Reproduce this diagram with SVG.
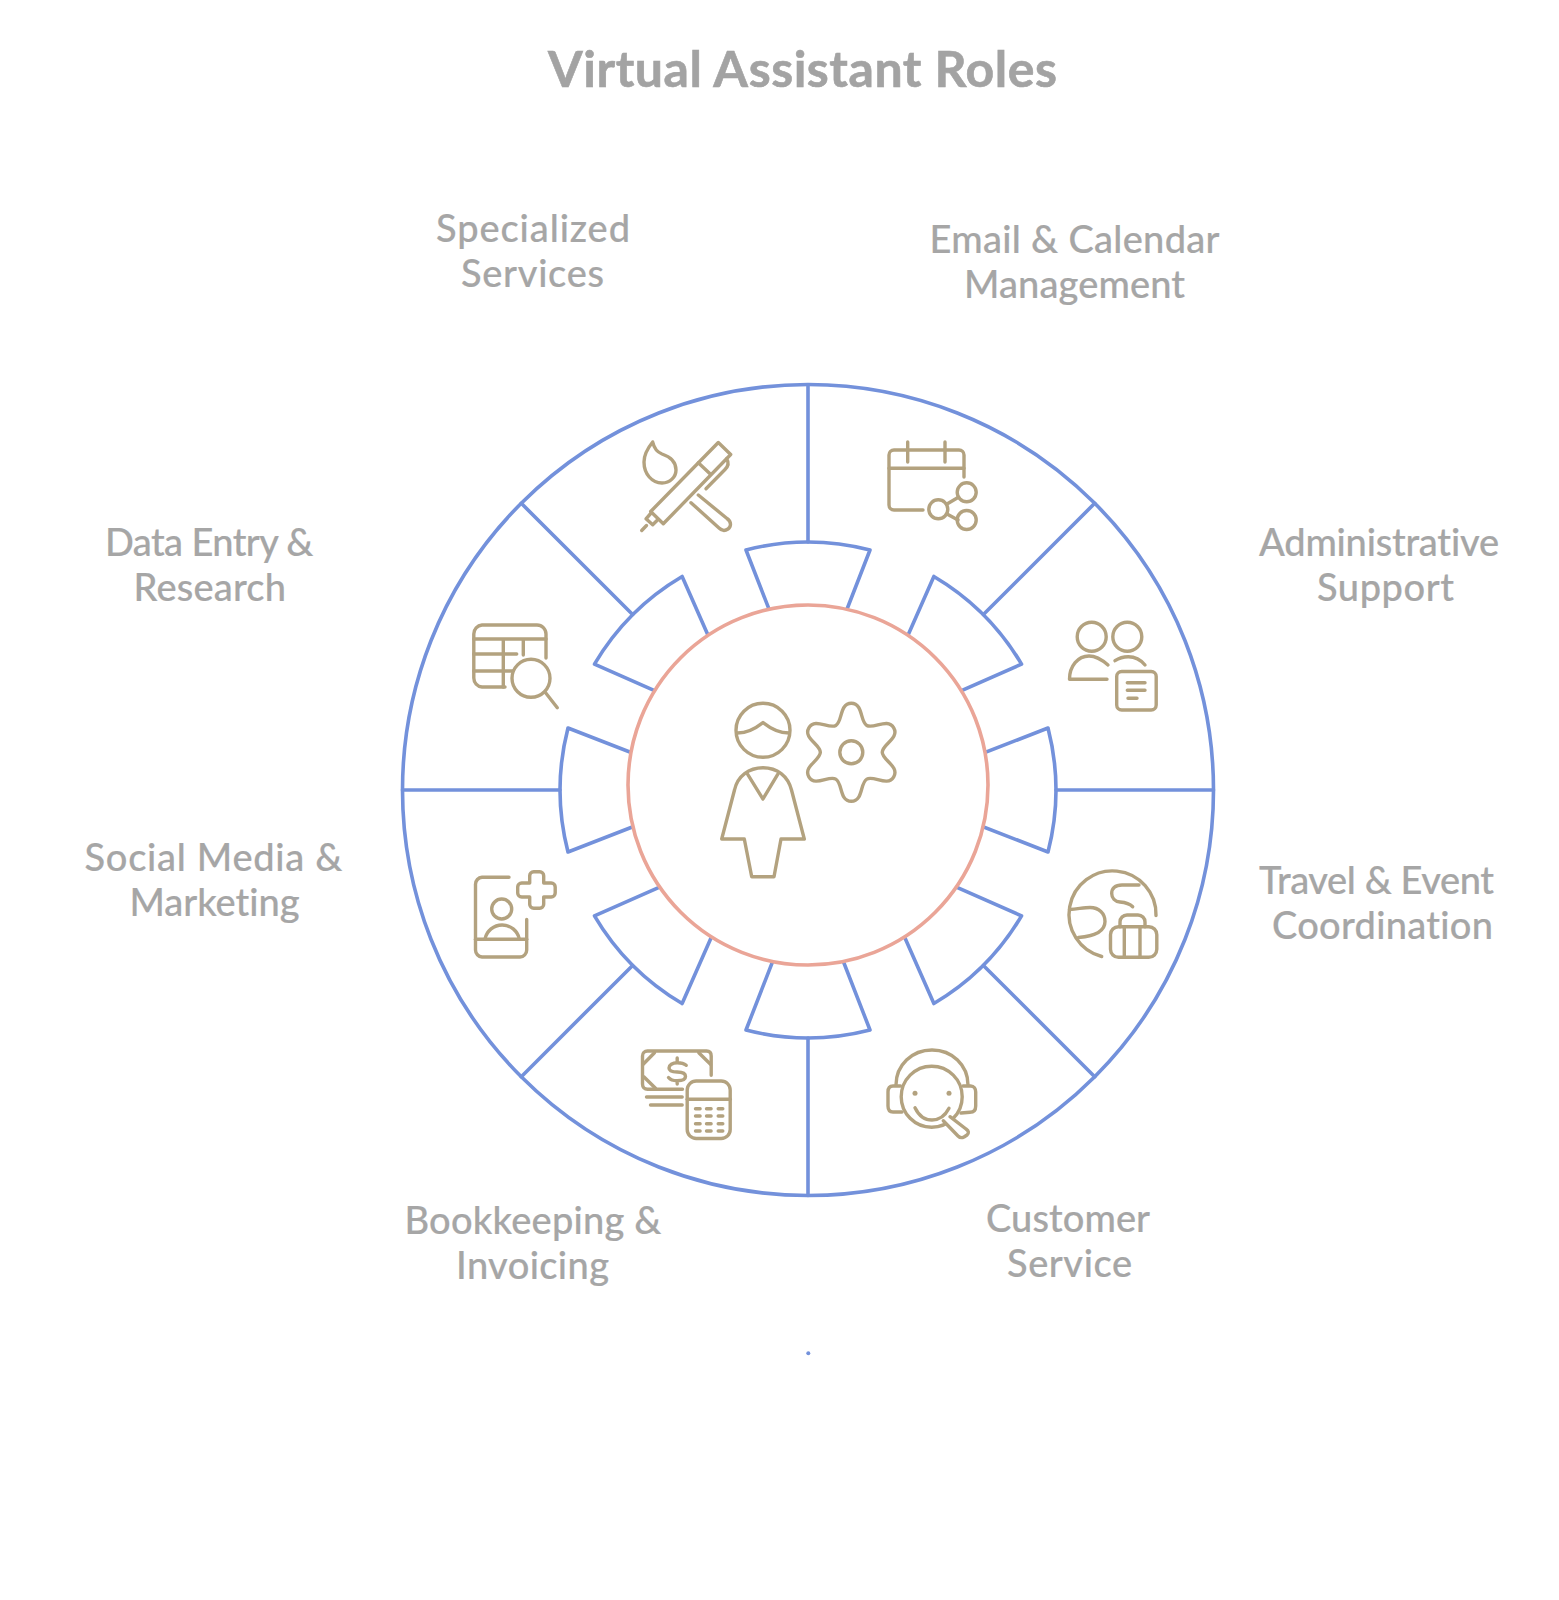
<svg xmlns="http://www.w3.org/2000/svg" width="1559" height="1600" viewBox="0 0 1559 1600">
<style>
.t{font-family:"Lato","Liberation Sans",sans-serif;font-size:38px;font-weight:500;fill:#a6a6a6;stroke:#a6a6a6;stroke-width:.2;font-variant-ligatures:none}
.h{font-family:"Lato","Liberation Sans",sans-serif;font-size:50px;font-weight:700;fill:#a3a3a3;stroke:#a3a3a3;stroke-width:.6;font-variant-ligatures:none}
.b{fill:none;stroke:#7391db;stroke-width:3.6;stroke-linecap:round;stroke-linejoin:round}
.w{fill:#fff;stroke:#7391db;stroke-width:3.6;stroke-linecap:round;stroke-linejoin:round}
.i{fill:none;stroke:#b3a27f;stroke-width:3.4;stroke-linecap:round;stroke-linejoin:round}
.f{fill:#b3a27f}
</style>
<defs><path id="wedge" class="w" d="M781 640L746 550A248 248 0 0 1 870 550L835 640"/></defs>
<rect width="1559" height="1600" fill="#fff"/>
<text id="title" class="h" x="548" y="87" textLength="509">Virtual Assistant Roles</text>
<g id="wheel">
<circle class="b" cx="808" cy="790" r="405.5"/>
<use href="#wedge"/>
<use href="#wedge" transform="rotate(45 808 790)"/>
<use href="#wedge" transform="rotate(90 808 790)"/>
<use href="#wedge" transform="rotate(135 808 790)"/>
<use href="#wedge" transform="rotate(180 808 790)"/>
<use href="#wedge" transform="rotate(225 808 790)"/>
<use href="#wedge" transform="rotate(270 808 790)"/>
<use href="#wedge" transform="rotate(315 808 790)"/>
</g>
<g id="connectors" class="b">
<path d="M808 385V542M808 1195.500V1038M402.500 790H560M1213.500 790H1056M521.300 503.300L632.600 614.600M1094.700 503.300L983.400 614.600M521.300 1076.700L632.600 965.400M1094.700 1076.700L983.400 965.400"/>
<circle cx="808.300" cy="1353.300" r="2" fill="#7391db" stroke="none"/>
</g>
<g id="center">
<circle cx="808" cy="785" r="180" fill="#fff" stroke="#eaa597" stroke-width="3.6"/>
<g class="i">
<circle cx="763" cy="730.300" r="27"/>
<path d="M737.500 733C748 733 756 728 763 722.500C770 728 778 733 789 733"/>
<path d="M721.700 839L734.500 790C737.500 776 749 767.700 763 767.700C777 767.700 788 776 791.500 790L804.300 839H781L774 876.700H751.700L744.300 839Z"/>
<path d="M747.700 774.300L763 799L777.700 774.300"/>
<g transform="translate(851.300 752.300)">
<circle r="11.500"/>
<path d="M-15.500 -26.800C-8.600 -30.800 -12 -49 0 -49C12 -49 8.600 -30.800 15.500 -26.800C22.370 -22.850 36.430 -34.890 42.430 -24.500C48.430 -14.110 30.970 -7.950 30.950 0C30.980 7.940 48.440 14.100 42.430 24.500C36.440 34.880 22.370 22.840 15.500 26.800C8.600 30.800 12 49 0 49C-12 49 -8.600 30.800 -15.500 26.800C-22.370 22.850 -36.430 34.890 -42.430 24.500C-48.430 14.110 -30.970 7.950 -30.950 0C-30.980 -7.940 -48.440 -14.100 -42.430 -24.500C-36.440 -34.880 -22.370 -22.840 -15.500 -26.800Z"/>
</g>
</g>
</g>
<g id="specialized">
<g class="i">
<path d="M652.700 442C647 449 644 455 644 462C644 474 652 483 662 483C670 483 676 477 676 470C676 460 668 456 662 454C657 452 654 448 652.700 442Z"/>
<path d="M718.300 442.500L730.700 454.500L663.300 523.800L650.700 511.500Z"/>
<path d="M698.300 462.800L710 473.800"/>
<path d="M650.700 513.500L646 518.800L652.700 524.800L657 520.500M646.500 525.500L641.700 530.500"/>
<path d="M726.700 458.800C729 462.500 728 466.500 725 469.500L706 488.800"/>
<path d="M698.300 495L727 518.500C732 522 731 527 728 529C725 531 722 531 719 528L691 502.700"/>
</g>
<text class="t" x="436" y="242" textLength="194">Specialized</text>
<text class="t" x="461" y="287" textLength="143">Services</text>
</g>
<g id="email-calendar">
<g class="i">
<path d="M964 477V455A5 5 0 0 0 959 450H894A5 5 0 0 0 889 455V505A5 5 0 0 0 894 510H923"/>
<path d="M889 468.300H964M907.700 442V462M945 442V462"/>
<circle cx="938.300" cy="509.300" r="9.500"/>
<circle cx="966.700" cy="492.300" r="9.500"/>
<circle cx="966.700" cy="520" r="9.500"/>
<path d="M947 504L958 497.500M947 514L958 520"/>
</g>
<text class="t" x="929.500" y="253" textLength="290">Email &amp; Calendar</text>
<text class="t" x="964" y="298" textLength="221">Management</text>
</g>
<g id="administrative">
<g class="i">
<circle cx="1091.700" cy="636.700" r="14.500"/>
<circle cx="1127.300" cy="636.700" r="14.500"/>
<path d="M1108 665C1100 658 1095 656 1089 656C1078 656 1069.500 666 1069.500 679.300H1107"/>
<path d="M1115 660.700C1119 658 1123 656.700 1128.300 656.700C1135 656.700 1141 660 1145 665"/>
<rect x="1116.700" y="671.500" width="39.500" height="38.500" rx="5"/>
<path d="M1127.300 682.700H1145M1127.300 690.300H1145M1128 698.300H1137"/>
</g>
<text class="t" x="1259" y="556" textLength="240">Administrative</text>
<text class="t" x="1317" y="601" textLength="137">Support</text>
</g>
<g id="travel">
<g class="i">
<path d="M1156 915.500A43.500 43.500 0 1 0 1101.700 956.500"/>
<path d="M1069.500 909.500C1080 908.500 1085 907.500 1090 907.500C1099 907.500 1105 913.500 1105 921.500C1105 931 1096 936 1078.500 937.500"/>
<path d="M1139 885H1122C1115 885 1111.700 888.500 1111.700 893.500C1111.700 898 1115 901.500 1120 902C1126 902.500 1130 904 1132.700 906.700"/>
<rect x="1110.500" y="926.700" width="46.300" height="30.600" rx="8"/>
<path d="M1120 926.700V922A7 7 0 0 1 1127 915H1138A7 7 0 0 1 1145 922V926.700M1124.300 926.700V957.300M1140 926.700V957.300"/>
</g>
<text class="t" x="1259" y="894" textLength="235">Travel &amp; Event</text>
<text class="t" x="1272" y="939" textLength="221">Coordination</text>
</g>
<g id="customer">
<g class="i">
<circle cx="931.700" cy="1096.700" r="30.500"/>
<path d="M896 1085C896 1065 912 1050 932 1050C952 1050 968 1065 968 1085"/>
<path d="M900.500 1086H893C890 1086 888 1088 888 1092V1106C888 1110 890 1112 893 1112H902"/>
<path d="M963 1086H970.700C974 1086 975.700 1089 975.700 1092V1106C975.700 1110 974 1112.300 970 1112.300L961 1113"/>
<path d="M915 1107.700C919 1116 925 1120 932 1120C939 1120 945 1116 949 1108.300"/>
<path fill="#fff" d="M950 1116.700L966 1129C969 1131 969 1133 967 1135L964 1137C962 1138 960 1138 958 1136L943.300 1120.700"/>
</g>
<circle class="f" cx="915" cy="1093.300" r="2.500"/>
<circle class="f" cx="949" cy="1093.300" r="2.500"/>
<text class="t" x="986" y="1232" textLength="164">Customer</text>
<text class="t" x="1007" y="1277" textLength="125">Service</text>
</g>
<g id="bookkeeping">
<g class="i" transform="translate(0.500 1)">
<path d="M710.700 1074.300V1055C710.700 1052 709 1050 706 1050H647C644 1050 642 1052 642 1055V1083C642 1086 644 1088.300 647 1088.300H682"/>
<path d="M654 1051.700L642.700 1063.300M698.300 1051.700L710 1063.300M643.300 1075.700L655 1087.300"/>
<path d="M685.700 1064.300C683 1062 680 1061.700 676.700 1061.700C672 1061.700 668.500 1064 668.500 1067C668.500 1070 672 1071 676.700 1071C681.500 1071 685 1072 685 1075.500C685 1078.500 681 1079.700 676.700 1079.700C673 1079.700 670 1079 668 1076.500M676.700 1057V1061.700M676.700 1079.700V1083"/>
<path d="M646 1096H681.700M650 1104H681.700"/>
<rect x="686.700" y="1080" width="43" height="57.500" rx="9"/>
<path d="M686.700 1098.300H729.700"/>
<path d="M695 1107.700H699.600M706 1107.700H710.600M717.700 1107.700H722.300M695 1115H699.600M706 1115H710.600M717.700 1115H722.300M695 1122.700H699.600M706 1122.700H710.600M717.700 1122.700H722.300M695 1130H699.600M706 1130H710.600M717.700 1130H722.300"/>
</g>
<text class="t" x="404.500" y="1234" textLength="257">Bookkeeping &amp;</text>
<text class="t" x="456" y="1279" textLength="153">Invoicing</text>
</g>
<g id="social">
<g class="i">
<path d="M509 877.300H482A7 7 0 0 0 475.500 884.300V950A7 7 0 0 0 482 957H520A7 7 0 0 0 526.700 950V919.500"/>
<path d="M475.500 939.300H526.700"/>
<circle cx="501.700" cy="909" r="10"/>
<path d="M485 939A17.500 17.500 0 0 1 519.300 939"/>
<path d="M533.700 871.700H539.700A4 4 0 0 1 543.700 875.700V883H551.200A4 4 0 0 1 555.200 887V893A4 4 0 0 1 551.200 897H543.700V904.300A4 4 0 0 1 539.700 908.300H533.700A4 4 0 0 1 529.700 904.300V897H521.700A4 4 0 0 1 517.700 893V887A4 4 0 0 1 521.700 883H529.700V875.700A4 4 0 0 1 533.700 871.700Z"/>
</g>
<text class="t" x="84.500" y="871" textLength="258">Social Media &amp;</text>
<text class="t" x="129.500" y="916" textLength="170">Marketing</text>
</g>
<g id="data-entry">
<g class="i">
<path d="M546 658V634A9 9 0 0 0 537 625H482A9 9 0 0 0 473.800 634V678A9 9 0 0 0 482 687H505"/>
<path d="M473.800 639H546M473.800 654H516.700M473.800 671H513M503.300 639V687M523.300 639V655"/>
<circle cx="531" cy="678.300" r="19"/>
<path d="M545 692L557.300 707.700"/>
</g>
<text class="t" x="105" y="556" textLength="208.500">Data Entry &amp;</text>
<text class="t" x="133.500" y="601" textLength="152.500">Research</text>
</g>
</svg>
